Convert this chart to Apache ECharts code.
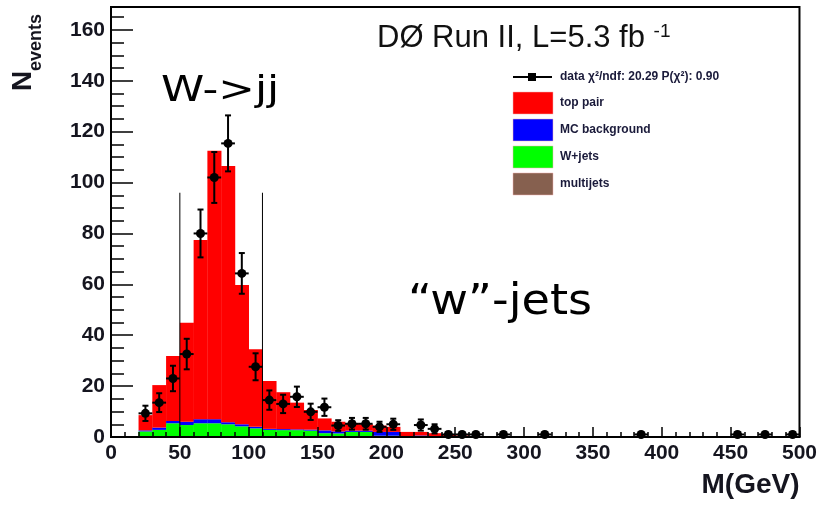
<!DOCTYPE html>
<html>
<head>
<meta charset="utf-8">
<script src="https://cdn.jsdelivr.net/npm/echarts@6/dist/echarts.min.js"></script>
<style>
html,body{margin:0;padding:0;background:#fff;}
#chart{width:820px;height:505px;}
</style>
</head>
<body>
<div id="chart"></div>
<script>
// ---- data ----
const binWidth = 10;
const binLow    = [20, 30, 40, 50, 60, 70, 80, 90, 100, 110, 120, 130, 140, 150, 160, 170, 180, 190, 200, 210, 220, 230, 240, 250];
const multijets = [0.2, 0.3, 0.4, 0.4, 0.4, 0.4, 0.4, 0.3, 0.3, 0.3, 0.2, 0.2, 0.2, 0.1, 0.1, 0.1, 0.1, 0.1, 0.1, 0, 0, 0, 0, 0];
const wJets     = [2.0, 2.5, 5.0, 4.3, 5.0, 5.0, 4.6, 3.9, 3.1, 2.5, 2.5, 2.5, 2.3, 1.4, 1.3, 1.9, 1.9, 0.4, 0.4, 0.2, 0.2, 0.1, 0.1, 0];
const mcBkg     = [0.4, 0.9, 0.9, 1.3, 1.6, 1.6, 0.8, 0.8, 0.6, 0.4, 0.4, 0.3, 0.4, 1.1, 0.8, 0.5, 0.5, 1.5, 1.5, 0.2, 0.4, 0.3, 0.2, 0.1];
const topPair   = [6.0, 16.7, 25.5, 38.9, 70.4, 105.5, 100.7, 54.7, 30.5, 18.8, 14.5, 10.5, 7.7, 4.7, 3.8, 3.0, 2.5, 2.5, 2.0, 1.6, 1.4, 1.1, 0.7, 0.5];

const dataX   = [25, 35, 45, 55, 65, 75, 85, 95, 105, 115, 125, 135, 145, 155, 165, 175, 185, 195, 205, 225, 235, 245, 255, 265, 285, 315, 385, 455, 475, 495];
const dataY   = [9.3, 13.5, 23, 32.6, 80, 102, 115.4, 64.3, 27.6, 14.5, 13, 15.8, 9.9, 11.7, 4.5, 5.2, 5.2, 4, 5, 4.7, 3.2, 1, 1, 1, 1, 1, 1, 1, 1, 1];
const dataErr = [3, 3.7, 5, 6, 9.4, 10, 11, 8, 5.3, 3.8, 3.6, 4, 3.2, 3.4, 2.1, 2.3, 2.3, 2, 2.2, 2.2, 1.8, 1, 1, 1, 1, 1, 1, 1, 1, 1];

const cutX = [50, 110];
const cutTop = 96;

const xTicks = { min: 0, max: 500, interval: 50 };
const yTicks = { min: 0, max: 169, interval: 20 };

const compColors = ['#86604f', '#00ff00', '#0000ff', '#ff0000'];
const legendItems = ['top pair', 'MC background', 'W+jets', 'multijets'];
const legendColors = ['#ff0000', '#0000ff', '#00ff00', '#86604f'];

// ---- build ----
const histData = binLow.map((lo, i) => [lo, multijets[i], wJets[i], mcBkg[i], topPair[i]]);
const pointData = dataX.map((x, i) => [x, dataY[i], dataErr[i]]);
const cutData = cutX.map(x => [x, cutTop]);

const chart = echarts.init(document.getElementById('chart'), null, {renderer: 'canvas'});

const labelFont = {fontFamily: 'Liberation Sans', fontWeight: 'bold', fontSize: 21, color: '#15151f'};

const graphics = [];
// y-axis title
graphics.push({type: 'text', x: 23, y: 91, rotation: Math.PI / 2,
  style: {text: 'N', x: 0, y: 0, align: 'left', verticalAlign: 'middle', fontFamily: 'Liberation Sans', fontWeight: 'bold', fontSize: 28, fill: '#15151f'}});
graphics.push({type: 'text', x: 36, y: 71, rotation: Math.PI / 2,
  style: {text: 'events', x: 0, y: 0, align: 'left', verticalAlign: 'middle', fontFamily: 'Liberation Sans', fontWeight: 'bold', fontSize: 18, fill: '#15151f'}});
// title
graphics.push({type: 'text', x: 377, y: 38,
  style: {text: '{a|DØ Run II, L=5.3 fb }{s|-1}', x: 0, y: 0, align: 'left', verticalAlign: 'middle',
    rich: {a: {fontFamily: 'Liberation Sans', fontSize: 31, fill: '#111', verticalAlign: 'bottom'},
           s: {fontFamily: 'Liberation Sans', fontSize: 19, fill: '#111', verticalAlign: 'top'}}}});
// legend
graphics.push({type: 'line', shape: {x1: 513, y1: 77, x2: 552, y2: 77}, style: {stroke: '#000', lineWidth: 2}});
graphics.push({type: 'rect', shape: {x: 528, y: 73, width: 8, height: 8}, style: {fill: '#000'}});
graphics.push({type: 'text', x: 560, y: 77, style: {text: 'data χ²/ndf: 20.29 P(χ²): 0.90', align: 'left', verticalAlign: 'middle', fontFamily: 'Liberation Sans', fontWeight: 'bold', fontSize: 12, fill: '#1a1a3a'}});
legendItems.forEach((name, i) => {
  const y = 92 + i * 27;
  graphics.push({type: 'rect', shape: {x: 513, y: y, width: 40, height: 22}, style: {fill: legendColors[i], stroke: '#f0b0b0', lineWidth: 0.5}});
  graphics.push({type: 'text', x: 560, y: y + 11, style: {text: name, align: 'left', verticalAlign: 'middle', fontFamily: 'Liberation Sans', fontWeight: 'bold', fontSize: 12, fill: '#1a1a3a'}});
});
// annotations
graphics.push({type: 'text', x: 161, y: 92, scaleX: 1.25,
  style: {text: 'W->jj', align: 'left', verticalAlign: 'middle', fontFamily: 'DejaVu Sans', fontSize: 35, fill: '#000'}});
graphics.push({type: 'text', x: 408, y: 303, scaleX: 1.1,
  style: {text: '“w”-jets', align: 'left', verticalAlign: 'middle', fontFamily: 'DejaVu Sans', fontSize: 42, fill: '#000'}});

const option = {
  backgroundColor: '#fff',
  animation: false,
  grid: {left: 111, right: 19, top: 7, bottom: 68, show: true, borderColor: '#000', borderWidth: 2, backgroundColor: 'transparent', z: 10},
  xAxis: {
    type: 'value', min: xTicks.min, max: xTicks.max, interval: xTicks.interval, z: 10,
    name: 'M(GeV)', nameLocation: 'end', nameGap: 0,
    nameTextStyle: {fontFamily: 'Liberation Sans', fontWeight: 'bold', fontSize: 28, color: '#15151f', align: 'right', verticalAlign: 'top', padding: [34, 0, 0, 0]},
    axisLine: {show: true, lineStyle: {color: '#000', width: 2}},
    axisTick: {show: true, inside: true, length: 10, lineStyle: {color: '#000', width: 1.5}},
    minorTick: {show: true, splitNumber: 5, length: 5, lineStyle: {color: '#000', width: 1.5}},
    axisLabel: Object.assign({margin: 6}, labelFont),
    splitLine: {show: false}
  },
  yAxis: {
    type: 'value', min: yTicks.min, max: yTicks.max, interval: yTicks.interval, z: 10,
    axisLine: {show: true, lineStyle: {color: '#000', width: 2}},
    axisTick: {show: true, inside: true, length: 22, lineStyle: {color: '#000', width: 1.5}},
    minorTick: {show: true, splitNumber: 4, length: 13, lineStyle: {color: '#000', width: 1.5}},
    axisLabel: Object.assign({margin: 6, showMaxLabel: false}, labelFont),
    splitLine: {show: false}
  },
  graphic: graphics,
  series: [
    {
      type: 'custom', name: 'stack', z: 1, data: histData,
      encode: {x: 0, y: 4},
      renderItem: function (params, api) {
        const lo = api.value(0), hi = lo + binWidth;
        let base = 0;
        const children = [];
        for (let j = 0; j < 4; j++) {
          const v = api.value(j + 1);
          if (!(v > 0)) continue;
          const p0 = api.coord([lo, base]);
          const p1 = api.coord([hi, base + v]);
          children.push({type: 'rect', shape: {x: p0[0], y: p1[1], width: p1[0] - p0[0] + 0.3, height: p0[1] - p1[1]}, style: {fill: compColors[j]}});
          base += v;
        }
        return {type: 'group', children: children};
      }
    },
    {
      type: 'custom', name: 'cuts', z: 3, data: cutData,
      renderItem: function (params, api) {
        const x = api.value(0), h = api.value(1);
        const a = api.coord([x, 0]), b = api.coord([x, h]);
        return {type: 'line', shape: {x1: a[0], y1: a[1], x2: b[0], y2: b[1]}, style: {stroke: '#000', lineWidth: 1}};
      }
    },
    {
      type: 'custom', name: 'data', z: 4, data: pointData,
      renderItem: function (params, api) {
        const x = api.value(0), y = api.value(1), e = api.value(2);
        const p = api.coord([x, y]);
        const pl = api.coord([x - binWidth / 2, y]), pr = api.coord([x + binWidth / 2, y]);
        const pt = api.coord([x, y + e]), pb = api.coord([x, Math.max(0, y - e)]);
        const st = {stroke: '#000', lineWidth: 2};
        return {type: 'group', children: [
          {type: 'line', shape: {x1: pt[0], y1: pt[1], x2: pb[0], y2: pb[1]}, style: st},
          {type: 'line', shape: {x1: pt[0] - 3, y1: pt[1], x2: pt[0] + 3, y2: pt[1]}, style: st},
          {type: 'line', shape: {x1: pb[0] - 3, y1: pb[1], x2: pb[0] + 3, y2: pb[1]}, style: st},
          {type: 'line', shape: {x1: pl[0], y1: pl[1], x2: pr[0], y2: pr[1]}, style: st},
          {type: 'circle', shape: {cx: p[0], cy: p[1], r: 4.5}, style: {fill: '#000'}}
        ]};
      }
    }
  ]
};
chart.setOption(option);
</script>
</body>
</html>
